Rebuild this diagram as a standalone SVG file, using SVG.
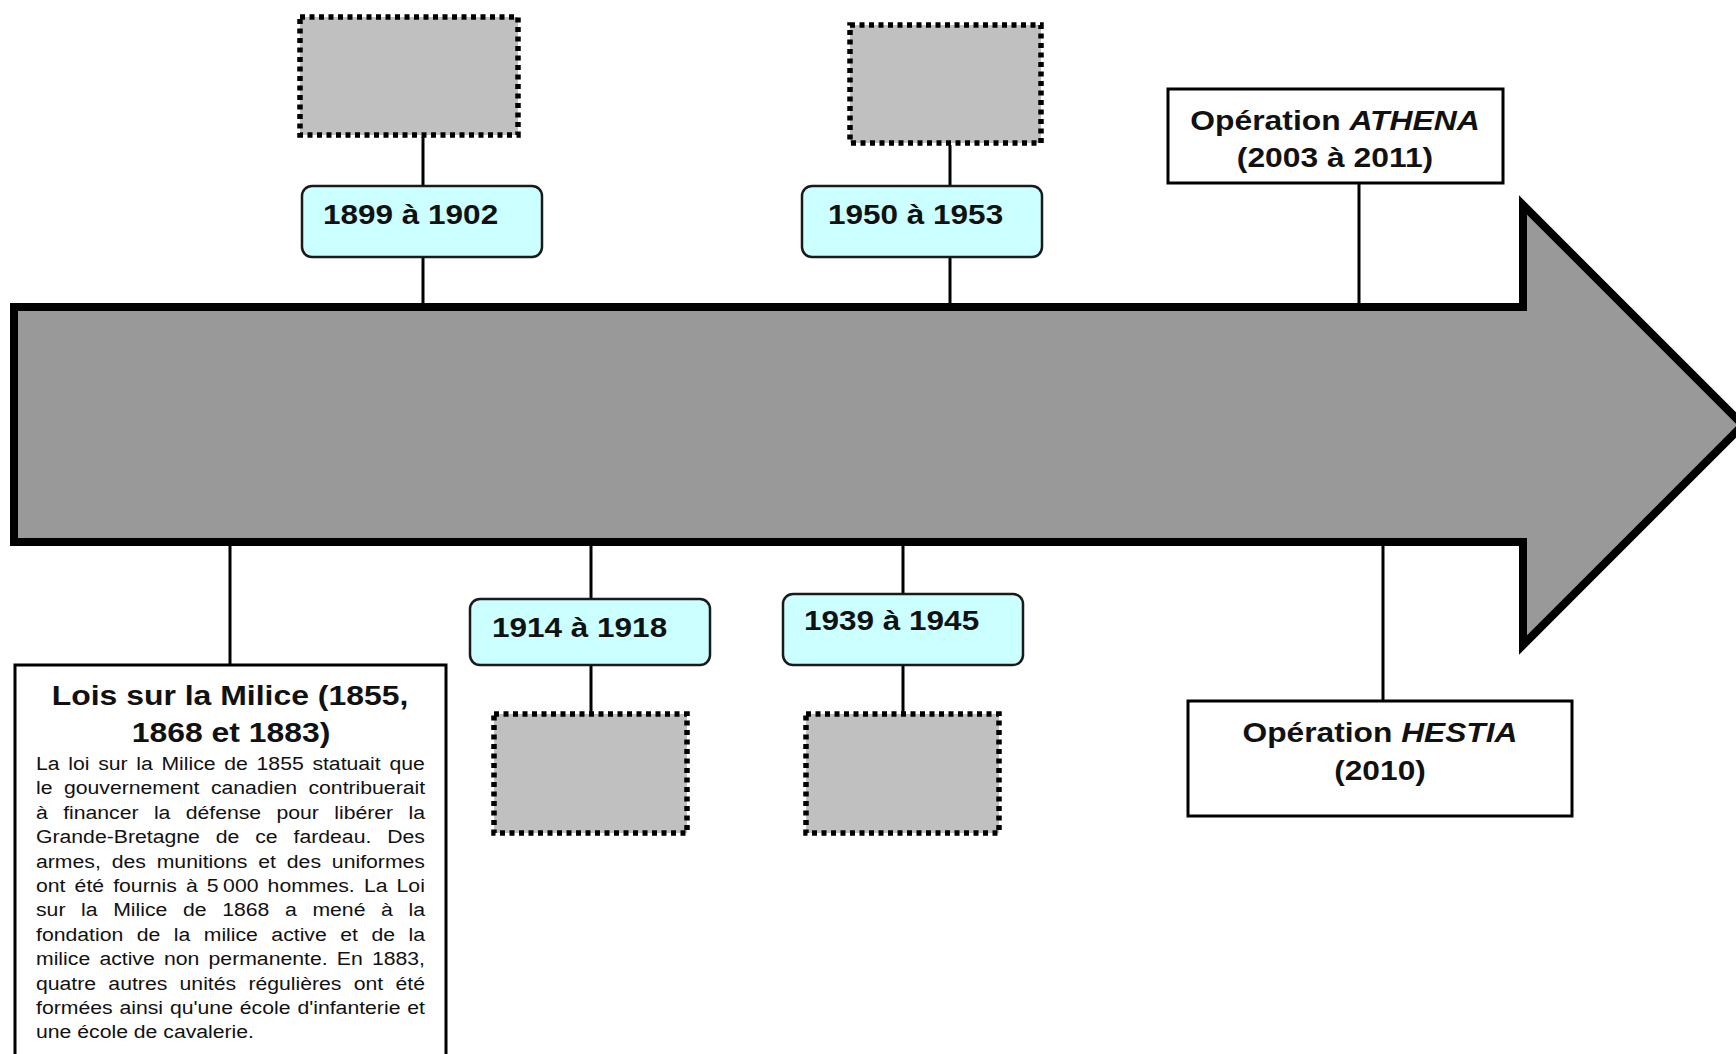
<svg xmlns="http://www.w3.org/2000/svg" width="1736" height="1054" viewBox="0 0 1736 1054">
<style>
.bg{fill:#ffffff}
.arrow{fill:#999999;stroke:#000;stroke-width:8;stroke-linejoin:miter}
.conn line{stroke:#000;stroke-width:3}
.dot{fill:#c0c0c0;stroke:#000;stroke-width:5.5;stroke-dasharray:5 4.5}
.cyan{fill:#ccffff;stroke:#1a1a1a;stroke-width:2.5}
.box{fill:#ffffff;stroke:#000;stroke-width:3}
.lbl{font-family:"Liberation Sans",Arial,sans-serif;font-weight:bold;font-size:28px;fill:#111}
.body{font-family:"Liberation Sans",Arial,sans-serif;font-size:19px;fill:#111}
</style>
<rect class="bg" x="0" y="0" width="1736" height="1054"/>
<g id="timeline-arrow">
<polygon class="arrow" points="14,307 1523,307 1523,205 1743,425 1523,645 1523,542 14,542"/>
</g>
<g id="connectors" class="conn">
<line x1="423" y1="137" x2="423" y2="307"/>
<line x1="950" y1="145" x2="950" y2="307"/>
<line x1="1359" y1="184" x2="1359" y2="307"/>
<line x1="230" y1="542" x2="230" y2="665"/>
<line x1="591" y1="542" x2="591" y2="714"/>
<line x1="903" y1="542" x2="903" y2="714"/>
<line x1="1383" y1="542" x2="1383" y2="701"/>
</g>
<g id="img-1899"><rect class="dot" x="300" y="17" width="218" height="118"/></g>
<g id="img-1950"><rect class="dot" x="850" y="25" width="191" height="118"/></g>
<g id="img-1914"><rect class="dot" x="494" y="714" width="193" height="119"/></g>
<g id="img-1939"><rect class="dot" x="806" y="714" width="193" height="119"/></g>
<g id="date-1899">
<rect class="cyan" x="302" y="186" width="240" height="71" rx="10"/>
<text class="lbl" transform="translate(323,224) scale(1.125,1)">1899 à 1902</text>
</g>
<g id="date-1950">
<rect class="cyan" x="802" y="186" width="240" height="71" rx="10"/>
<text class="lbl" transform="translate(828,224) scale(1.125,1)">1950 à 1953</text>
</g>
<g id="date-1914">
<rect class="cyan" x="470" y="599" width="240" height="66" rx="10"/>
<text class="lbl" transform="translate(492,637) scale(1.125,1)">1914 à 1918</text>
</g>
<g id="date-1939">
<rect class="cyan" x="783" y="594" width="240" height="71" rx="10"/>
<text class="lbl" transform="translate(804,630) scale(1.125,1)">1939 à 1945</text>
</g>
<g id="athena">
<rect class="box" x="1168" y="89" width="335" height="94"/>
<text class="lbl" text-anchor="middle" transform="translate(1335,130) scale(1.137,1)">Opération <tspan font-style="italic">ATHENA</tspan></text>
<text class="lbl" text-anchor="middle" transform="translate(1335,167) scale(1.137,1)">(2003 à 2011)</text>
</g>
<g id="hestia">
<rect class="box" x="1188" y="701" width="384" height="115"/>
<text class="lbl" text-anchor="middle" transform="translate(1380,742) scale(1.133,1)">Opération <tspan font-style="italic">HESTIA</tspan></text>
<text class="lbl" text-anchor="middle" transform="translate(1380,780) scale(1.133,1)">(2010)</text>
</g>
<g id="lois-milice">
<rect class="box" x="15" y="665" width="431" height="420" stroke-width="4"/>
<text class="lbl" text-anchor="middle" transform="translate(230,705) scale(1.14,1)">Lois sur la Milice (1855,</text>
<text class="lbl" text-anchor="middle" transform="translate(231,742) scale(1.14,1)">1868 et 1883)</text>
<text class="body" transform="translate(36,770) scale(1.116,1)" word-spacing="2.5">La loi sur la Milice de 1855 statuait que</text>
<text class="body" transform="translate(36,794.4) scale(1.116,1)" word-spacing="5">le gouvernement canadien contribuerait</text>
<text class="body" transform="translate(36,818.8) scale(1.116,1)" word-spacing="8.47">à financer la défense pour libérer la</text>
<text class="body" transform="translate(36,843.2) scale(1.116,1)" word-spacing="9">Grande-Bretagne de ce fardeau. Des</text>
<text class="body" transform="translate(36,867.6) scale(1.116,1)" word-spacing="4.46">armes, des munitions et des uniformes</text>
<text class="body" transform="translate(36,892) scale(1.116,1)" word-spacing="2.9">ont été fournis à 5<tspan dx="4">000</tspan> hommes. La Loi</text>
<text class="body" transform="translate(36,916.4) scale(1.116,1)" word-spacing="8.73">sur la Milice de 1868 a mené à la</text>
<text class="body" transform="translate(36,940.8) scale(1.116,1)" word-spacing="6.8">fondation de la milice active et de la</text>
<text class="body" transform="translate(36,965.2) scale(1.116,1)" word-spacing="2.98">milice active non permanente. En 1883,</text>
<text class="body" transform="translate(36,989.6) scale(1.116,1)" word-spacing="5.72">quatre autres unités régulières ont été</text>
<text class="body" transform="translate(36,1014) scale(1.116,1)" word-spacing="0.9">formées ainsi qu'une école d'infanterie et</text>
<text class="body" transform="translate(36,1038.4) scale(1.116,1)">une école de cavalerie.</text>
</g>
</svg>
